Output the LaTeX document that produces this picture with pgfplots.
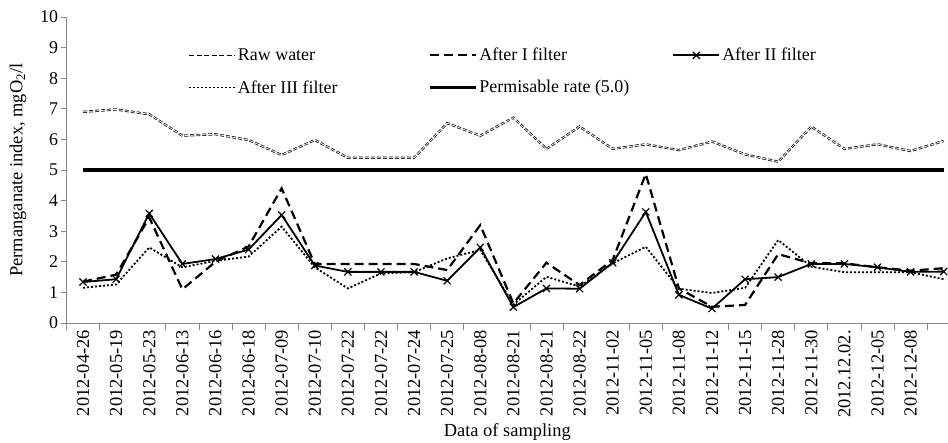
\documentclass[border=0pt]{standalone}
\usepackage{fontspec}
\setmainfont{Liberation Serif}
\usepackage{pgfplots}
\pgfplotsset{compat=1.18}
\definecolor{axgray}{RGB}{134,134,134}
\begin{document}
\begin{tikzpicture}
\useasboundingbox (-66.5bp,-120bp) rectangle (881.5bp,323bp);
\begin{axis}[
  at={(0,0)}, anchor=south west,
  width=881.5bp, height=306bp, scale only axis,
  xmin=-0.5, xmax=26.13, ymin=0, ymax=10,
  axis lines*=left,
  axis line style={draw=axgray, line width=0.8bp, -},
  ytick={0,1,...,10},
  xtick={0,1,...,25},
  xticklabels={2012-04-26,2012-05-19,2012-05-23,2012-06-13,2012-06-16,2012-06-18,2012-07-09,2012-07-10,2012-07-22,2012-07-22,2012-07-24,2012-07-25,2012-08-08,2012-08-21,2012-08-21,2012-08-22,2012-11-02,2012-11-05,2012-11-08,2012-11-12,2012-11-15,2012-11-28,2012-11-30,2012.12.02.,2012-12-05,2012-12-08},
  minor xtick={-0.5,0.5,2.5,3.5,4.5,5.5,6.5,7.5,8.5,9.5,10.5,11.5,13.5,14.5,16.5,17.5,19.5,20.5,21.5,22.5,23.5,24.5,25.5},
  tick style={draw=axgray, line width=0.8bp},
  every major x tick/.append style={draw=none},
  minor tick length=7bp,
  major tick length=5bp,
  tick align=outside,
  /pgf/number format/assume math mode=true,
  xticklabel style={rotate=90, anchor=east, font=\fontsize{18.5}{18.5}\selectfont, inner sep=2bp},
  yticklabel style={font=\fontsize{18}{18}\selectfont},
  xlabel={Data of sampling},
  ylabel={Permanganate index, mgO\textsubscript{2}/l},
  label style={font=\fontsize{18.5}{18.5}\selectfont},
  x label style={at={(axis description cs:0.5,-0.356)}, anchor=center},
  y label style={at={(axis description cs:-0.055,0.5)}, anchor=center, rotate=0},
  clip marker paths=true,
  legend columns=3,
  legend cell align=left,
  legend image code/.code={\draw[mark repeat=2,mark phase=2,#1] plot coordinates {(0bp,0bp) (23bp,0bp) (46bp,0bp)};},
  legend style={at={(0.1378,0.905)}, anchor=north west, draw=none, fill=none,
    font=\fontsize{18}{18}\selectfont, row sep=14bp, inner sep=0pt,
    nodes={inner sep=2bp}},
]
% legend entries
\addlegendimage{black, line width=1.5bp, dash pattern=on 5bp off 2.5bp}
\addlegendentry{\makebox[188bp][l]{Raw water}}
\addlegendimage{black, line width=2.2bp, dash pattern=on 9bp off 5bp}
\addlegendentry{\makebox[191bp][l]{After I filter}}
\addlegendimage{black, line width=1.8bp, mark=x, mark size=5bp, mark options={solid, line width=1.2bp}}
\addlegendentry{After II filter}
\addlegendimage{black, line width=1.8bp, dash pattern=on 2bp off 2bp}
\addlegendentry{\makebox[188bp][l]{After III filter}}
\addlegendimage{black, line width=3.5bp}
\addlegendentry{\makebox[191bp][l]{Permisable rate (5.0)}}

% Permissible rate
\addplot[forget plot, black, line width=3.5bp] coordinates {(0,5) (26,5)};

% Raw water
\addplot[forget plot, draw=black!90, line width=0.8bp, double=white, double distance=0.7bp, dash pattern=on 4bp off 2bp] coordinates {
(0,6.90) (1,6.98) (2,6.82) (3,6.12) (4,6.17) (5,5.98) (6,5.49) (7,5.98) (8,5.40) (9,5.40) (10,5.40) (11,6.53) (12,6.12)
(13,6.71) (14,5.69) (15,6.42) (16,5.69) (17,5.84) (18,5.65) (19,5.93) (20,5.51) (21,5.27) (22,6.42) (23,5.69) (24,5.84) (25,5.62) (26,5.95)};

% After III filter
\addplot[forget plot, black, line width=1.8bp, dash pattern=on 2bp off 2bp] coordinates {
(0,1.15) (1,1.26) (2,2.47) (3,1.82) (4,2.03) (5,2.17) (6,3.15) (7,1.82) (8,1.13) (9,1.62) (10,1.66) (11,2.11) (12,2.39)
(13,0.60) (14,1.51) (15,1.19) (16,1.95) (17,2.49) (18,1.12) (19,0.98) (20,1.15) (21,2.71) (22,1.84) (23,1.66) (24,1.66) (25,1.66) (26,1.43)};

% After I filter
\addplot[forget plot, black, line width=2.2bp, dash pattern=on 9bp off 5bp] coordinates {
(0,1.35) (1,1.58) (2,3.45) (3,1.10) (4,2.00) (5,2.50) (6,4.40) (7,1.93) (8,1.93) (9,1.93) (10,1.93) (11,1.73) (12,3.20)
(13,0.64) (14,1.97) (15,1.24) (16,2.06) (17,4.87) (18,1.13) (19,0.53) (20,0.59) (21,2.25) (22,1.95) (23,1.95) (24,1.82) (25,1.71) (26,1.79)};

% After II filter
\addplot[forget plot, black, line width=1.8bp, mark=x, mark size=5bp, mark options={solid, line width=1.2bp}] coordinates {
(0,1.34) (1,1.43) (2,3.58) (3,1.93) (4,2.09) (5,2.40) (6,3.53) (7,1.88) (8,1.67) (9,1.67) (10,1.67) (11,1.38) (12,2.47)
(13,0.52) (14,1.13) (15,1.12) (16,1.97) (17,3.63) (18,0.92) (19,0.47) (20,1.43) (21,1.50) (22,1.93) (23,1.93) (24,1.82) (25,1.67) (26,1.68)};
\end{axis}
\end{tikzpicture}
\end{document}
